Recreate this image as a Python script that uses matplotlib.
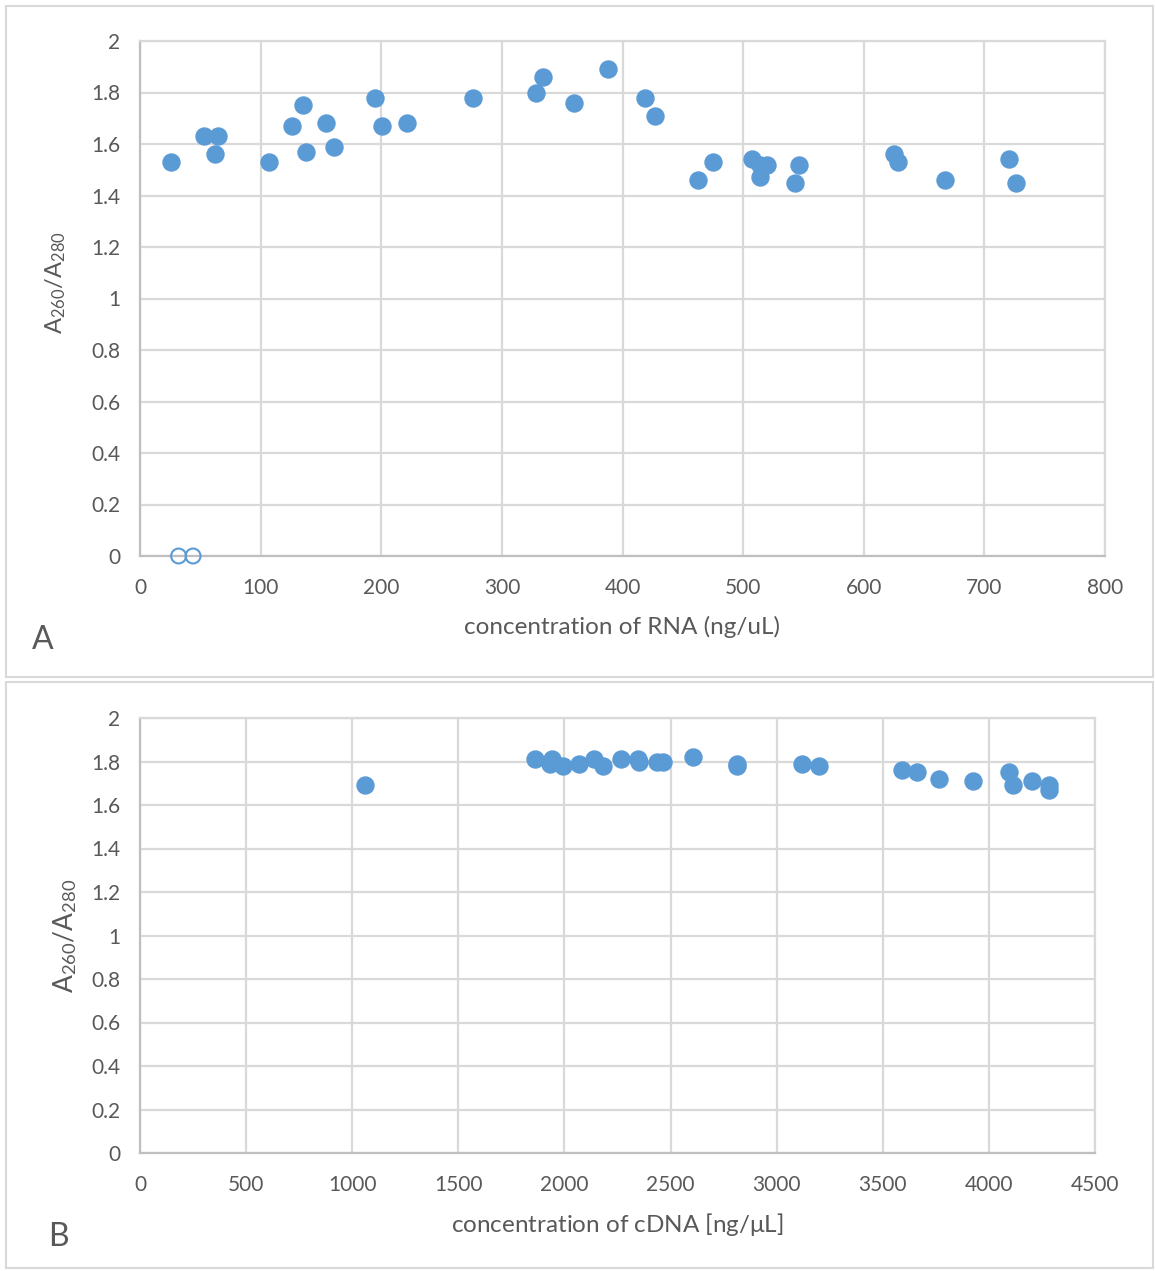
import matplotlib
matplotlib.use('Agg')
import matplotlib.pyplot as plt
from matplotlib.patches import Rectangle

# Panel A: RNA
rna_conc = [26, 53, 62, 65, 107, 126, 135, 138, 154, 161, 195, 201, 221, 276,
            328, 334, 360, 388, 419, 427, 463, 475, 507, 514, 520, 514, 546, 543,
            625, 628, 667, 720, 726]
rna_ratio = [1.53, 1.63, 1.56, 1.63, 1.53, 1.67, 1.75, 1.57, 1.68, 1.59, 1.78, 1.67, 1.68, 1.78,
             1.80, 1.86, 1.76, 1.89, 1.78, 1.71, 1.46, 1.53, 1.54, 1.52, 1.52, 1.47, 1.52, 1.45,
             1.56, 1.53, 1.46, 1.54, 1.45]
rna_zero_conc = [32, 44]
rna_zero_ratio = [0, 0]

# Panel B: cDNA
cdna_conc = [1060, 1859, 1932, 1943, 1995, 2069, 2141, 2183, 2267, 2345, 2353, 2435, 2463,
             2604, 2815, 2815, 3118, 3200, 3592, 3660, 3767, 3926, 4096, 4113, 4205, 4281, 4281]
cdna_ratio = [1.69, 1.81, 1.79, 1.81, 1.78, 1.79, 1.81, 1.78, 1.81, 1.81, 1.80, 1.80, 1.80,
              1.82, 1.79, 1.78, 1.79, 1.78, 1.76, 1.75, 1.72, 1.71, 1.75, 1.69, 1.71, 1.69, 1.67]

W, H = 1155, 1271
txt_color = '#595959'
grid_color = '#D9D9D9'
dot_color = '#5B9BD5'

plt.rcParams.update({'font.family': 'Lato',
                     'font.size': 15,
                     'mathtext.fontset': 'custom',
                     'mathtext.rm': 'Lato',
                     'mathtext.it': 'Lato:italic',
                     'text.color': txt_color})

fig = plt.figure(figsize=(W / 100, H / 100), dpi=100)


def px_rect(left, top, right, bottom):
    return [left / W, 1 - bottom / H, (right - left) / W, (bottom - top) / H]


# panel frames
for (l, t, r, b) in [(6, 6, 1153, 677), (6, 682, 1153, 1268)]:
    fig.patches.append(Rectangle((l / W, 1 - b / H), (r - l) / W, (b - t) / H,
                                 transform=fig.transFigure, fill=False,
                                 edgecolor=grid_color, linewidth=1.5))


def style_axes(ax, xmax, xstep):
    ax.set_xlim(0, xmax)
    ax.set_ylim(0, 2)
    ax.set_xticks(range(0, xmax + 1, xstep))
    ax.set_yticks([i / 5 for i in range(11)])
    ax.set_yticklabels(['0', '0.2', '0.4', '0.6', '0.8', '1', '1.2', '1.4', '1.6', '1.8', '2'])
    ax.grid(True, color=grid_color, linewidth=1.6, zorder=0)
    ax.set_axisbelow(True)
    for s in ['top', 'right']:
        ax.spines[s].set_color(grid_color)
        ax.spines[s].set_linewidth(1.6)
    for s in ['left', 'bottom']:
        ax.spines[s].set_color('#BFBFBF')
        ax.spines[s].set_linewidth(1.6)
    ax.tick_params(length=0, labelsize=15, colors=txt_color)
    ax.tick_params(axis='x', pad=16)
    ax.tick_params(axis='y', pad=14)


ax1 = fig.add_axes(px_rect(140, 41, 1105, 556))
ax1.scatter(rna_conc, rna_ratio, s=150, color=dot_color, zorder=3, clip_on=False)
ax1.scatter(rna_zero_conc, rna_zero_ratio, s=115, facecolor='none', edgecolor=dot_color,
            linewidth=1.5, zorder=3, clip_on=False)
style_axes(ax1, 800, 100)
ax1.set_xlabel('concentration of RNA (ng/uL)', fontsize=17.5, color=txt_color, labelpad=13)
ax1.set_ylabel(r'A$\mathrm{_{260}}$/A$\mathrm{_{280}}$', fontsize=17, color=txt_color)
ax1.yaxis.set_label_coords(-0.075, 0.53)
fig.text(43 / W, 1 - 640 / H, 'A', fontsize=23, color=txt_color, ha='center', va='center')

ax2 = fig.add_axes(px_rect(140, 718, 1095, 1153))
ax2.scatter(cdna_conc, cdna_ratio, s=150, color=dot_color, zorder=3, clip_on=False)
style_axes(ax2, 4500, 500)
ax2.set_xlabel(r'concentration of cDNA [ng/$\mathrm{\mu}$L]', fontsize=17.5, color=txt_color, labelpad=11)
ax2.set_ylabel(r'A$_{\mathrm{260}}$/A$_{\mathrm{280}}$', fontsize=19, color=txt_color)
ax2.yaxis.set_label_coords(-0.064, 0.5)
fig.text(58 / W, 1 - 1237 / H, 'B', fontsize=23, color=txt_color, ha='center', va='center')

fig.savefig('out.png', dpi=100)
